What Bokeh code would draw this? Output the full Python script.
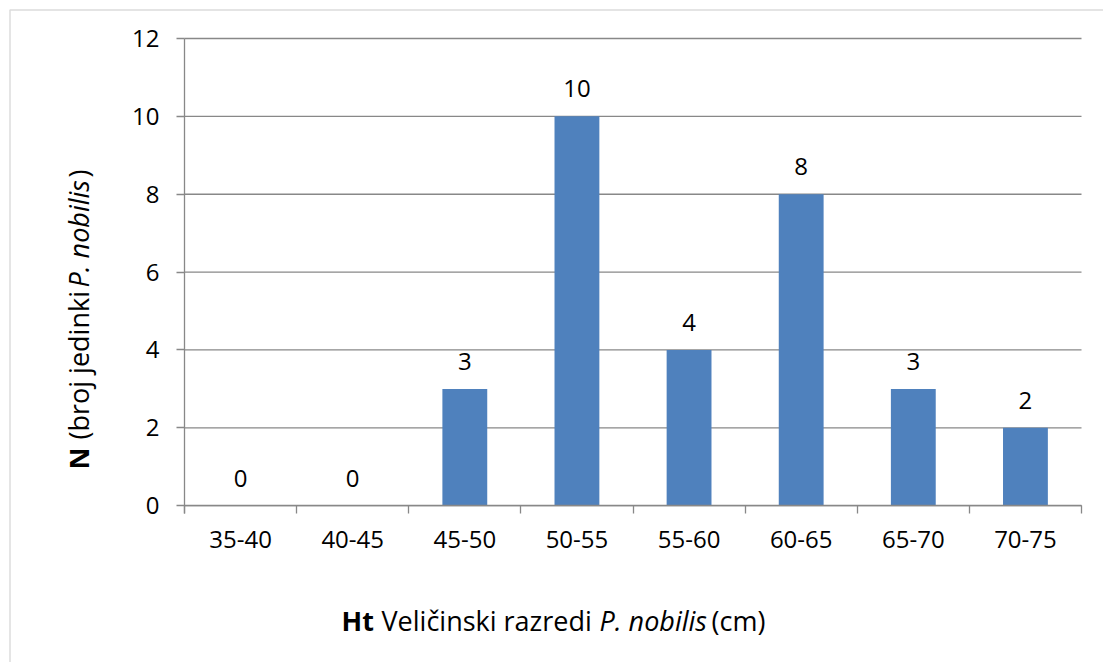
import numpy as np
from bokeh.plotting import figure
from bokeh.models import (Range1d, FixedTicker, LabelSet, Label, LinearAxis,
                          ColumnDataSource, BoxAnnotation)
from bokeh.core.properties import value
from bokeh.embed import file_html
from bokeh.resources import INLINE

# ---- data ----
categories = ["35-40", "40-45", "45-50", "50-55", "55-60", "60-65", "65-70", "70-75"]
counts = [0, 0, 3, 10, 4, 8, 3, 2]
y_ticks = [0, 2, 4, 6, 8, 10, 12]

FONT = "Open Sans"
GRID = "#888888"
BAR = "#4F81BD"

# ---- layout (canvas pixels) ----
W, H = 1103, 662
PL, PR = 184, 1081          # plot area left/right
PT, P0 = 38, 505.2          # y=12 and y=0 pixel rows
NC = len(categories)
XS = NC / (PR - PL)         # data units per px (x)
YS = 12 / (P0 - PT)         # data units per px (y)

def dx(px):
    return (px - PL) * XS

def dy(py):
    return (P0 - py) * YS

centers = np.arange(NC) + 0.5
bounds = np.arange(NC + 1)
src = ColumnDataSource(dict(x=centers, n=counts, lab=[str(v) for v in counts]))

p = figure(x_range=Range1d(dx(0), dx(W)), y_range=Range1d(dy(H), dy(0)),
           frame_width=W, frame_height=H, min_border=0,
           x_axis_location=None, y_axis_location=None,
           output_backend="svg", toolbar_location=None)
p.outline_line_color = None
p.grid.visible = False

# horizontal gridlines (from y tick values)
p.segment(x0=0, x1=NC, y0=y_ticks, y1=y_ticks, line_color=GRID, line_width=1.3)

# bars
p.vbar(x="x", top="n", width=0.4, source=src, fill_color=BAR, line_color=None)

# y axis
yax = LinearAxis(fixed_location=0, ticker=FixedTicker(ticks=y_ticks), bounds=(dy(513), 12))
yax.axis_line_color = GRID
yax.axis_line_width = 1.3
yax.major_tick_line_color = GRID
yax.major_tick_line_width = 1.3
yax.major_tick_out = 8
yax.major_tick_in = 0
yax.minor_tick_line_color = None
yax.major_label_text_font = FONT
yax.major_label_text_font_size = "24px"
yax.major_label_text_color = "black"
yax.major_label_standoff = 17
p.add_layout(yax, "left")

# x axis: boundary ticks
xtk = LinearAxis(fixed_location=0, ticker=FixedTicker(ticks=list(bounds)), bounds=(0, NC))
xtk.axis_line_color = GRID
xtk.axis_line_width = 1.3
xtk.major_tick_line_color = GRID
xtk.major_tick_line_width = 1.3
xtk.major_tick_out = 8
xtk.major_tick_in = 0
xtk.minor_tick_line_color = None
xtk.major_label_overrides = {int(b): "" for b in bounds}
p.add_layout(xtk, "below")

# x axis: category labels
xlb = LinearAxis(fixed_location=0, ticker=FixedTicker(ticks=list(centers)))
xlb.axis_line_color = None
xlb.major_tick_line_color = None
xlb.minor_tick_line_color = None
xlb.major_label_overrides = {float(c): name for c, name in zip(centers, categories)}
xlb.major_label_text_font = FONT
xlb.major_label_text_font_size = "24px"
xlb.major_label_text_color = "black"
xlb.major_label_standoff = 19
p.add_layout(xlb, "below")

# value labels
p.add_layout(LabelSet(x="x", y="n", text="lab", source=src, text_align="center",
                      text_baseline="alphabetic", y_offset=19,
                      text_font=value(FONT), text_font_size="24px", text_color="black"))

# x axis title (mixed styles)
for txt, px, style in [("Ht", 341, "bold"), ("Veličinski razredi", 381, "normal"),
                       ("P. nobilis", 599, "italic"), ("(cm)", 711, "normal")]:
    p.add_layout(Label(x=dx(px), y=dy(620), text=txt,
                       text_font=FONT, text_font_size="27px", text_font_style=style,
                       text_align="left", text_baseline="alphabetic", text_color="black"))

# y axis title (mixed styles, rotated)
for txt, py, style in [("N", 469, "bold"), ("(broj jedinki", 439, "normal"),
                       ("P. nobilis", 287, "italic"), (")", 177, "normal")]:
    p.add_layout(Label(x=dx(78), y=dy(py), text=txt,
                       angle=np.pi / 2, text_font=FONT, text_font_size="27px",
                       text_font_style=style, text_align="left", text_baseline="alphabetic",
                       text_color="black"))

# chart border (top and left edges visible)
p.add_layout(BoxAnnotation(left=dx(9.5), right=dx(W + 50), top=dy(9.5), bottom=dy(H + 50),
                           fill_color=None, line_color="#8c8c8c", line_width=1.5))

open("out.html", "w").write(file_html(p, INLINE))
